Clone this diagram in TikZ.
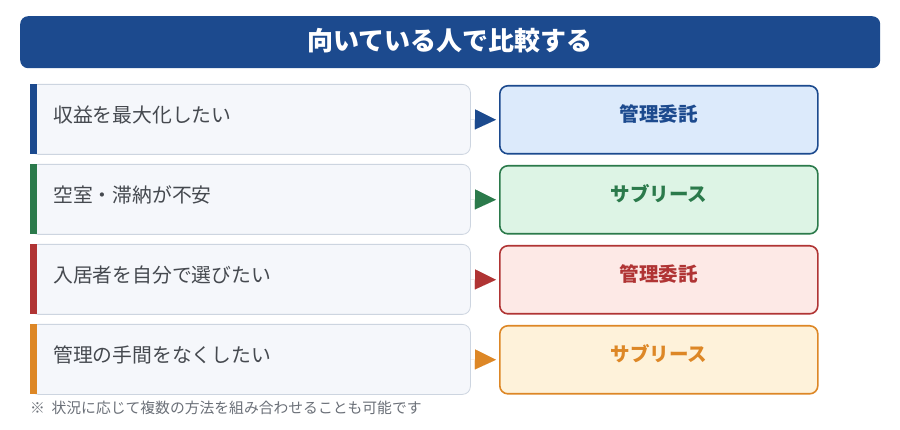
\documentclass[tikz,border=0pt]{standalone}
\usepackage{fontspec}
\setmainfont{Noto Sans CJK JP}
\usetikzlibrary{arrows.meta}
\definecolor{cBlue}{HTML}{1C4A8E}
\definecolor{cGreen}{HTML}{2B7A4B}
\definecolor{cRed}{HTML}{B03434}
\definecolor{cOrange}{HTML}{DD8726}
\definecolor{fBlue}{HTML}{DCEAFB}
\definecolor{fGreen}{HTML}{DDF4E5}
\definecolor{fRed}{HTML}{FDE9E6}
\definecolor{fOrange}{HTML}{FEF2DA}
\definecolor{leftFill}{HTML}{F5F7FB}
\definecolor{leftLine}{HTML}{CDD5E0}
\definecolor{txtGray}{HTML}{45494F}
\definecolor{noteGray}{HTML}{6B7078}
\tikzset{
  leftbox/.style={draw=leftLine, line width=0.8pt, fill=leftFill, rounded corners=8pt,
    minimum width=440pt, minimum height=70pt, inner sep=0pt, anchor=north west},
  lefttext/.style={font=\fontsize{19.8pt}{22pt}\selectfont, text=txtGray, anchor=west, inner sep=0pt},
  rightbox/.style={draw=#1, line width=1.6pt, rounded corners=8pt,
    minimum width=318pt, minimum height=68pt, inner sep=0pt, anchor=north west},
  righttext/.style={font=\fontsize{19.5pt}{22pt}\selectfont\bfseries, text=#1, inner sep=0pt},
  conn/.style={draw=#1, line width=0.01pt, shorten >=3pt,
    -{Triangle[length=21pt,width=20pt,fill=#1]}},
}
\begin{document}
\begin{tikzpicture}[x=1pt,y=-1pt]
\useasboundingbox[fill=white] (0,0) rectangle (900,430);
% title
\node[fill=cBlue, rounded corners=8pt, minimum width=860pt, minimum height=52pt,
  inner sep=0pt, anchor=north west] (title) at (20,16) {};
\node[text=white, font=\fontsize{26pt}{28pt}\selectfont\bfseries, inner sep=0pt]
  (titletext) at (450,41) {向いている人で比較する};
% rows
\foreach \i/\yy/\col/\fil/\ltxt/\rtxt in {
  1/84/cBlue/fBlue/収益を最大化したい/管理委託,
  2/164/cGreen/fGreen/空室・滞納が不安/サブリース,
  3/244/cRed/fRed/入居者を自分で選びたい/管理委託,
  4/324/cOrange/fOrange/管理の手間をなくしたい/サブリース}{
  \node[leftbox] (l\i) at (30,\yy) {};
  \fill[\col] (30,\yy) rectangle (37,\yy+70);
  \node[lefttext] (lt\i) at (53,\yy+31) {\ltxt};
  \node[rightbox=\col, fill=\fil] (r\i) at (499,\yy+1) {};
  \node[righttext=\col] (rt\i) at ([yshift=6pt]r\i.center) {\rtxt};
  \draw[conn=\col] (l\i.east) -- (r\i.west);
}
% footnote
\node[text=noteGray, font=\fontsize{14.8pt}{17pt}\selectfont, anchor=west, inner sep=0pt]
  (note) at (30,408) {※\hspace{0.45em}状況に応じて複数の方法を組み合わせることも可能です};
\end{tikzpicture}
\end{document}
